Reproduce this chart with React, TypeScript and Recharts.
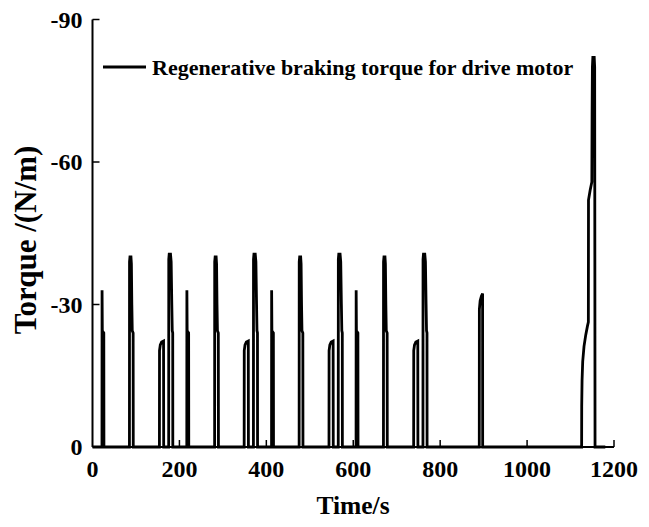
import React from 'react';
import { LineChart, Line, XAxis, YAxis, Legend, Label } from 'recharts';

const FONT = '"Liberation Serif", "Times New Roman", Times, serif';

const seriesName = 'Regenerative braking torque for drive motor';
const xTitle = 'Time/s';
const yTitle = 'Torque /(N/m)';
const xTicks = [0, 200, 400, 600, 800, 1000, 1200];
const yTicks = [0, -30, -60, -90];

// [time (s), torque] points
const startPts: [number, number][] = [[0, 0]];

const cycle1: [number, number][] = [
  [21.8, 0], [22, -33], [22.6, -24.5], [26, -24], [26.3, 0],
  [85, 0], [85.2, -39], [86.2, -40], [88.5, -40], [89.5, -38.5], [90.5, -30], [91.5, -24.5], [93.5, -24], [93.8, 0],
  [154, 0], [154.2, -20.3], [156, -21.5], [159, -22.1], [163.5, -22.3], [163.8, 0],
  [175.3, 0], [175.5, -39.5], [176.5, -40.6], [179.5, -40.6], [181, -39], [182.5, -30], [183.5, -24.5], [184.6, -24], [184.8, 0],
];

const cycle2: [number, number][] = [
  [217, 0], [217.2, -33], [217.8, -24.5], [221.2, -24], [221.5, 0],
  [281, 0], [281.2, -39], [282.2, -40], [284.5, -40], [285.5, -38.5], [286.5, -30], [287.5, -24.5], [289.5, -24], [289.8, 0],
  [349, 0], [349.2, -20.3], [351, -21.5], [354, -22.1], [358.5, -22.3], [358.8, 0],
  [370.3, 0], [370.5, -39.5], [371.5, -40.6], [374.5, -40.6], [376, -39], [377.5, -30], [378.5, -24.5], [379.6, -24], [379.8, 0],
];

const cycle3: [number, number][] = [
  [412, 0], [412.2, -33], [412.8, -24.5], [416.2, -24], [416.5, 0],
  [475.5, 0], [475.7, -39], [476.7, -40], [479, -40], [480, -38.5], [481, -30], [482, -24.5], [484, -24], [484.3, 0],
  [544.2, 0], [544.4, -20.3], [546.2, -21.5], [549.2, -22.1], [553.7, -22.3], [554, 0],
  [565.5, 0], [565.7, -39.5], [566.7, -40.6], [569.7, -40.6], [571.2, -39], [572.7, -30], [573.7, -24.5], [574.8, -24], [575, 0],
];

const cycle4: [number, number][] = [
  [606.5, 0], [606.7, -33], [607.3, -24.5], [610.7, -24], [611, 0],
  [669.5, 0], [669.7, -39], [670.7, -40], [673, -40], [674, -38.5], [675, -30], [676, -24.5], [678, -24], [678.3, 0],
  [739, 0], [739.2, -20.3], [741, -21.5], [744, -22.1], [748.5, -22.3], [748.8, 0],
  [760.4, 0], [760.6, -39.5], [761.6, -40.6], [764.6, -40.6], [766.1, -39], [767.6, -30], [768.6, -24.5], [769.7, -24], [769.9, 0],
];

const eudc: [number, number][] = [
  [890, 0], [890.2, -29], [892, -30.8], [895, -31.8], [897.6, -32.3], [897.8, 0],
  [1125.5, 0], [1125.7, -8.5], [1126.5, -14], [1128, -18], [1131, -21.2], [1135, -23.6],
  [1139, -25.5], [1141, -26.3], [1141.3, -52], [1145, -54], [1149, -55.8], [1149.6, -70],
  [1150.3, -80], [1151.3, -82], [1154.5, -82], [1155.5, -80], [1156.4, 0],
  [1180, 0],
];

const data = [...startPts, ...cycle1, ...cycle2, ...cycle3, ...cycle4, ...eudc].map(([t, v]) => ({ t, v }));

const XTick = (props: any) => {
  const { x, y, payload } = props;
  return (
    <g>
      {payload.value !== 0 && (
        <line x1={x} x2={x} y1={y} y2={y - 7} stroke="#000" strokeWidth={1.5} />
      )}
      <text x={x} y={y + 30} textAnchor="middle" fontFamily={FONT} fontWeight="bold" fontSize={24} fill="#000">
        {payload.value}
      </text>
    </g>
  );
};

const YTick = (props: any) => {
  const { x, y, payload } = props;
  return (
    <g>
      {payload.value !== 0 && (
        <line x1={x} x2={x + 7} y1={y} y2={y} stroke="#000" strokeWidth={1.5} />
      )}
      <text x={x - 10} y={y + 8} textAnchor="end" fontFamily={FONT} fontWeight="bold" fontSize={24} fill="#000">
        {payload.value}
      </text>
    </g>
  );
};

const LegendContent = () => (
  <svg width={649} height={100} style={{ display: 'block' }}>
    <line x1={103} x2={146} y1={67} y2={67} stroke="#000" strokeWidth={2.8} />
    <text x={152} y={75} fontFamily={FONT} fontWeight="bold" fontSize={22} fill="#000">
      {seriesName}
    </text>
  </svg>
);

export default function App() {
  return (
    <div style={{ position: 'absolute', left: 0, top: 0 }}>
      <LineChart width={649} height={527} data={data} margin={{ top: 19.5, right: 35, left: 0, bottom: 0 }}>
        <XAxis
          dataKey="t"
          type="number"
          domain={[0, 1200]}
          ticks={xTicks}
          interval={0}
          height={80}
          tickSize={0}
          tickMargin={0}
          tickLine={false}
          axisLine={{ stroke: '#000', strokeWidth: 2 }}
          tick={<XTick />}
        >
          <Label
            content={() => (
              <text x={353} y={514} textAnchor="middle" fontFamily={FONT} fontWeight="bold" fontSize={25.5} fill="#000">
                {xTitle}
              </text>
            )}
          />
        </XAxis>
        <YAxis
          type="number"
          domain={[-90, 0]}
          reversed
          ticks={yTicks}
          interval={0}
          width={92.5}
          tickSize={0}
          tickMargin={0}
          tickLine={false}
          axisLine={{ stroke: '#000', strokeWidth: 2 }}
          tick={<YTick />}
        >
          <Label
            content={() => (
              <text
                x={25}
                y={240}
                transform="rotate(-90, 25, 240)"
                textAnchor="middle"
                dominantBaseline="central"
                fontFamily={FONT}
                fontWeight="bold"
                fontSize={31}
                fill="#000"
              >
                {yTitle}
              </text>
            )}
          />
        </YAxis>
        <Legend
          layout="horizontal"
          verticalAlign="middle"
          align="center"
          wrapperStyle={{ position: 'absolute', left: 0, top: 0, width: 649, height: 100 }}
          content={<LegendContent />}
        />
        <Line
          type="linear"
          dataKey="v"
          name={seriesName}
          stroke="#000"
          strokeWidth={2.8}
          dot={false}
          activeDot={false}
          isAnimationActive={false}
        />
      </LineChart>
    </div>
  );
}
